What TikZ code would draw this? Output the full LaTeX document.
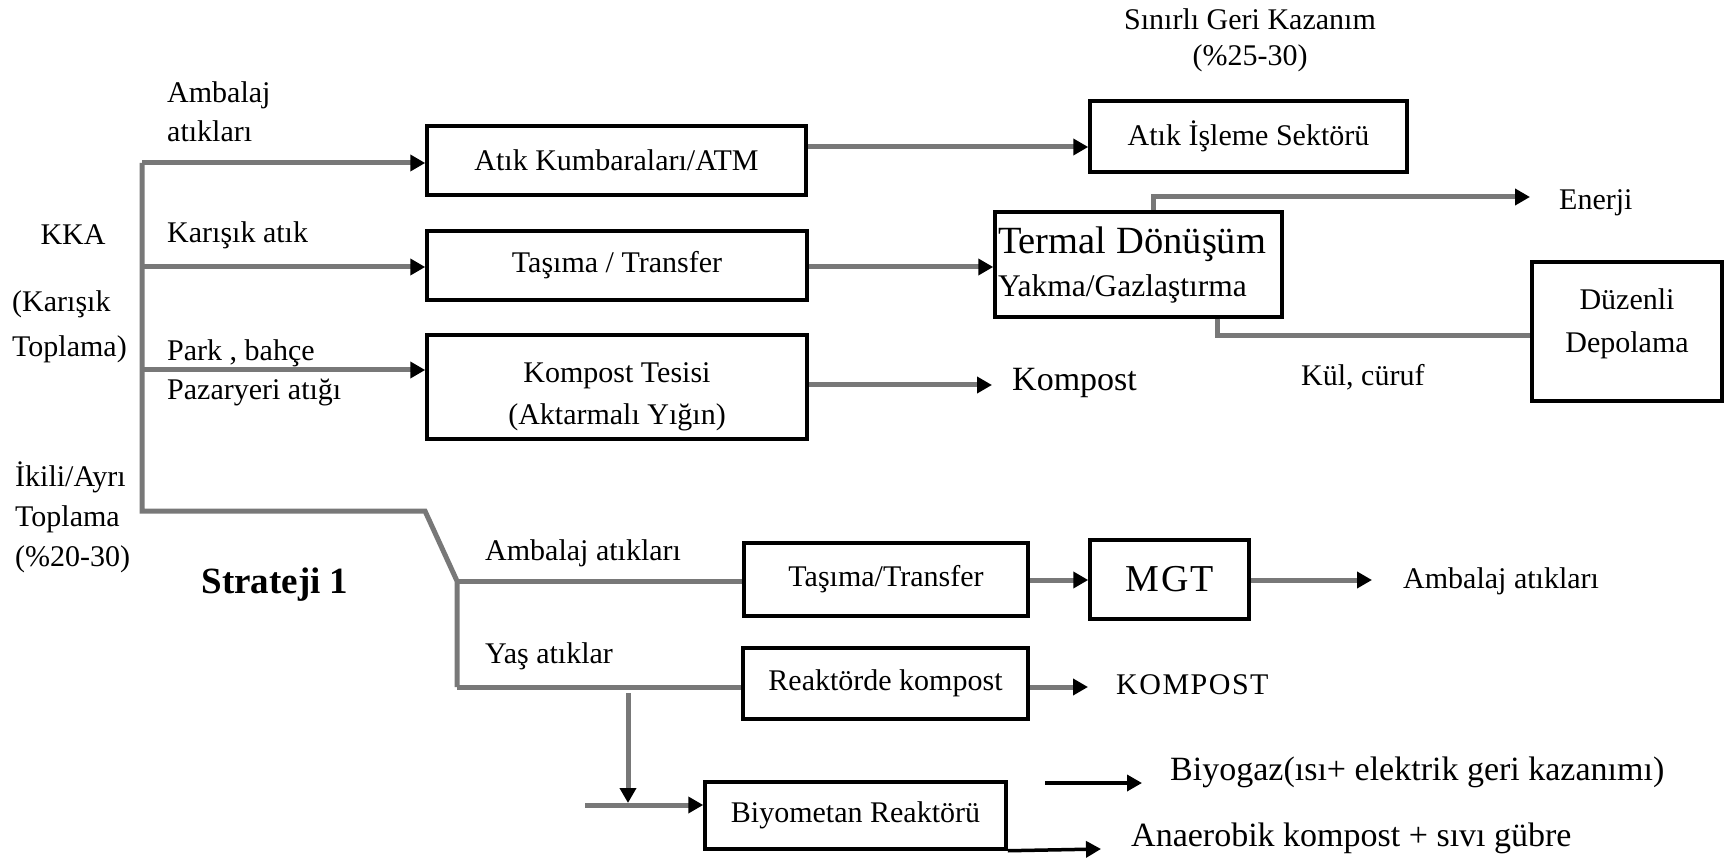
\documentclass[tikz,border=0pt]{standalone}
\usepackage{fontspec}
\setmainfont{Liberation Serif}
\newfontfamily\spaced{Liberation Serif}[LetterSpace=5]
\usetikzlibrary{arrows.meta}
\definecolor{linegray}{HTML}{787878}
\tikzset{
  box/.style={draw=black, line width=3.5pt, fill=white, inner sep=4pt,
              font=\fontsize{30}{38}\selectfont, align=center},
  lbl/.style={inner sep=0pt, font=\fontsize{30}{36}\selectfont, align=left},
  conn/.style={draw=linegray, line width=5pt},
  arr/.style={conn, -{Triangle[length=15pt,width=16pt,color=black]}},
  blk/.style={draw=black, line width=3.5pt, -{Triangle[length=15pt,width=16pt,color=black]}},
}
\begin{document}
\begin{tikzpicture}[x=1pt,y=-1pt]
\useasboundingbox (0,0) rectangle (1730,858);

% ---------- boxes ----------
\node[box, minimum width=379pt, minimum height=69pt] (kumbara) at (616.5,160.5) {Atık Kumbaraları/ATM};
\node[box, minimum width=317pt, minimum height=71pt] (isleme) at (1248.5,136.5) {Atık İşleme  Sektörü};
\node[box, minimum width=380pt, minimum height=69pt] (tasima1) at (617,265.5) {Taşıma / Transfer};
\node[box, minimum width=287pt, minimum height=105pt, text width=281pt, align=left, inner xsep=3pt] (termal) at (1138.5,264.5)
  {{\fontsize{38.5}{44}\selectfont Termal Dönüşüm}\\[5pt]{\fontsize{31.5}{36}\selectfont Yakma/Gazlaştırma}};
\node[box, minimum width=190pt, minimum height=139pt] (duzenli) at (1627,331.5) {};
\node[lbl, align=center, font=\fontsize{30}{43}\selectfont] (duzenliT) at ([yshift=8pt]duzenli.center) {Düzenli\\Depolama};
\node[box, minimum width=380pt, minimum height=104pt] (komptes) at (617,387) {};
\node[lbl, align=center, font=\fontsize{30}{42}\selectfont] (komptesT) at ([yshift=-10pt]komptes.center) {Kompost Tesisi\\(Aktarmalı Yığın)};
\node[box, minimum width=284pt, minimum height=73pt] (tasima2) at (886,579.5) {Taşıma/Transfer};
\node[box, minimum width=159pt, minimum height=79pt] (mgt) at (1169.5,579.5)
  {{\spaced\fontsize{38}{44}\selectfont MGT}};
\node[box, minimum width=285pt, minimum height=71pt] (reaktor) at (885.5,683.5) {Reaktörde kompost};
\node[box, minimum width=301pt, minimum height=67pt] (biyomet) at (855.5,815.5) {Biyometan Reaktörü};

% ---------- free labels ----------
\node[lbl, align=center] (sinirli) at (1250,40) {Sınırlı Geri Kazanım\\(\%25-30)};
\node[lbl, anchor=west, font=\fontsize{30}{39}\selectfont] (amb1) at (167,112) {Ambalaj\\atıkları};
\node[lbl] (kka) at (73,235) {KKA};
\node[lbl, anchor=west, font=\fontsize{30}{45}\selectfont] (kartop) at (12,327) {(Karışık\\Toplama)};
\node[lbl, anchor=west] (karatik) at (167,235) {Karışık atık};
\node[lbl, anchor=west, font=\fontsize{30}{39}\selectfont] (park) at (167,373) {Park , bahçe\\Pazaryeri atığı};
\node[lbl, anchor=west, font=\fontsize{30}{40}\selectfont] (ikili) at (15,517) {İkili/Ayrı\\Toplama\\(\%20-30)};
\node[lbl, font=\bfseries\fontsize{37}{40}\selectfont] (strateji) at (275,585) {Strateji 1};
\node[lbl, anchor=west] (amb2) at (485,553) {Ambalaj atıkları};
\node[lbl, anchor=west] (yas) at (485,656) {Yaş atıklar};
\node[lbl, anchor=west, font=\fontsize{34}{40}\selectfont] (kompost) at (1012,383) {Kompost};
\node[lbl, anchor=west] (enerji) at (1559,203) {Enerji};
\node[lbl, anchor=west] (kul) at (1301,377) {Kül, cüruf};
\node[lbl, anchor=west] (amb3) at (1403,581) {Ambalaj atıkları};
\node[lbl, anchor=west, font=\spaced\fontsize{30}{36}\selectfont] (kompU) at (1116,685) {KOMPOST};
\node[lbl, anchor=west, font=\fontsize{34}{40}\selectfont] (biyogaz) at (1170,772) {Biyogaz(ısı+ elektrik geri kazanımı)};
\node[lbl, anchor=west, font=\fontsize{34}{40}\selectfont] (anaer) at (1131,838) {Anaerobik kompost + sıvı gübre};

% ---------- branching points ----------
\coordinate (t1) at (142,163);
\coordinate (t2) at (142,267);
\coordinate (t3) at (142,370);
\coordinate (t4) at (142,511);
\coordinate (bend) at (425,511);
\coordinate (s1) at (457,581);
\coordinate (s2) at (457,687);
\coordinate (k1) at (0,147);
\coordinate (eu) at (1153,0);
\coordinate (en) at (1530,197);
\coordinate (ash) at (1217,336);
\coordinate (kp) at (992,385);
\coordinate (mo) at (1372,580);
\coordinate (ko) at (1088,687);
\coordinate (vtop) at (628,693);
\coordinate (vbot) at (628,803);
\coordinate (hs) at (585,805);
\coordinate (bg1) at (1045,783);
\coordinate (bg2) at (1142,783);
\coordinate (an) at (1101,849);

% ---------- connectors ----------
\draw[conn] (t1) -- (t4) -- (bend) -- (s1) -- (s2);
\draw[arr] (t1) -- (t1 -| kumbara.west);
\draw[arr] (t2) -- (t2 -| tasima1.west);
\draw[arr] (t3) -- (t3 -| komptes.west);
\draw[arr] (kumbara.east |- k1) -- (isleme.west |- k1);
\draw[arr] (tasima1.east |- t2) -- (termal.west |- t2);
\draw[arr] (termal.north -| eu) |- (en);
\draw[conn] (termal.south -| ash) -- (ash) -- (ash -| duzenli.west);
\draw[arr] (komptes.east |- kp) -- (kp);
\draw[conn] (s1) -- (tasima2.west |- s1);
\draw[conn] (s2) -- (reaktor.west |- s2);
\draw[arr] (tasima2.east |- mo) -- (mgt.west |- mo);
\draw[arr] (mgt.east |- mo) -- (mo);
\draw[arr] (reaktor.east |- ko) -- (ko);
\draw[arr] (vtop) -- (vbot);
\draw[arr] (hs) -- (biyomet.west |- hs);
\draw[blk] (bg1) -- (bg2);
\draw[blk] (biyomet.south east) -- (an);
\end{tikzpicture}
\end{document}
